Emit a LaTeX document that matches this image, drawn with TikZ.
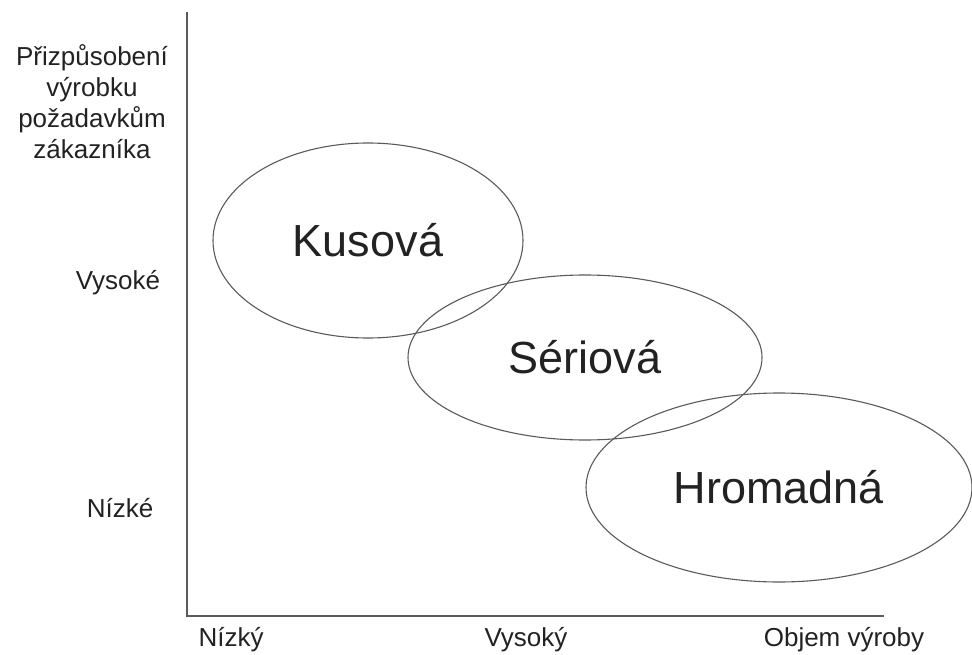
\documentclass[tikz,border=0pt]{standalone}
\usepackage{fontspec}
\setmainfont{Liberation Sans}
\usetikzlibrary{shapes.geometric}
\definecolor{linegray}{HTML}{5A5A5A}
\definecolor{txt}{HTML}{222222}
\begin{document}
\begin{tikzpicture}[x=1pt,y=-1pt,
  axisline/.style={draw=linegray,line width=1.8pt},
  oval/.style={ellipse,draw=linegray,line width=1.1pt,inner sep=0pt,text=txt,
    font=\fontsize{45}{50}\selectfont},
  lbl/.style={text=txt,inner sep=0pt,anchor=base,font=\fontsize{26}{31}\selectfont}]
\useasboundingbox (0,0) rectangle (972,655);
\coordinate (ytop) at (187,12);
\coordinate (orig) at (187,616);
\coordinate (xend) at (884,616);
\draw[axisline] (ytop) -- (orig) -- (xend);
\node[oval,minimum width=310pt,minimum height=195pt] (kus) at (368,240.5) {Kusová};
\node[oval,minimum width=354pt,minimum height=165pt] (ser) at (585,357.5) {Sériová};
\node[oval,minimum width=386pt,minimum height=189pt] (hro) at (779,487.5) {Hromadná};
\node[lbl,align=center,anchor=north] (prz) at (92,44) {Přizpůsobení\\výrobku\\požadavkům\\zákazníka};
\node[lbl] (vys) at (118,289) {Vysoké};
\node[lbl] (niz) at (120,517) {Nízké};
\node[lbl] (nizky) at (231,646) {Nízký};
\node[lbl] (vysoky) at (526,646) {Vysoký};
\node[lbl] (objem) at (844,646) {Objem výroby};
\end{tikzpicture}
\end{document}
